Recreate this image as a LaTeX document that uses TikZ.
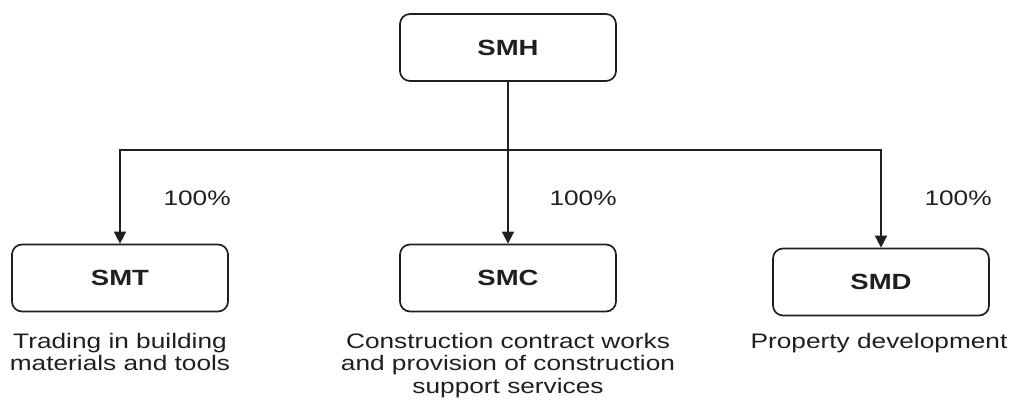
\documentclass[tikz,border=0pt]{standalone}
\usepackage{fontspec}
\setmainfont[FakeStretch=1.25]{Liberation Sans}
\usetikzlibrary{arrows.meta}
\begin{document}
\begin{tikzpicture}[x=1pt,y=-1pt,
  every node/.style={text=black!88},
  entity/.style={draw=black!88,line width=1.7pt,rounded corners=10pt,
    minimum width=216pt,minimum height=67pt,font=\fontsize{22}{24}\selectfont\bfseries},
  share/.style={anchor=west,font=\fontsize{21}{22}\selectfont},
  remark/.style={anchor=north,align=center,inner sep=0pt,font=\fontsize{21}{22.5}\selectfont},
  arr/.style={draw=black!88,line width=1.5pt,-{Triangle[width=12pt,length=12pt]}}]
  \useasboundingbox (0,0) rectangle (1015,410);
  \node[entity] (smh) at (508,47.5) {SMH};
  \node[entity] (smt) at (120,278) {SMT};
  \node[entity] (smc) at (508,278) {SMC};
  \node[entity] (smd) at (881,282) {SMD};
  \coordinate (bus) at (508,150);
  \draw[black!88,line width=1.5pt] (smh) -- (bus);
  \draw[arr] (bus) -| (smt);
  \draw[arr] (bus) -- (smc);
  \draw[arr] (bus) -| (smd);
  \node[share] (pt) at (160,198) {100\%};
  \node[share] (pc) at (546,198) {100\%};
  \node[share] (pd) at (921,198) {100\%};
  \node[remark] (rt) at (120,333) {Trading in building\\materials and tools};
  \node[remark] (rc) at (508,333) {Construction contract works\\and provision of construction\\support services};
  \node[remark] (rd) at (879,333) {Property development};
\end{tikzpicture}
\end{document}
